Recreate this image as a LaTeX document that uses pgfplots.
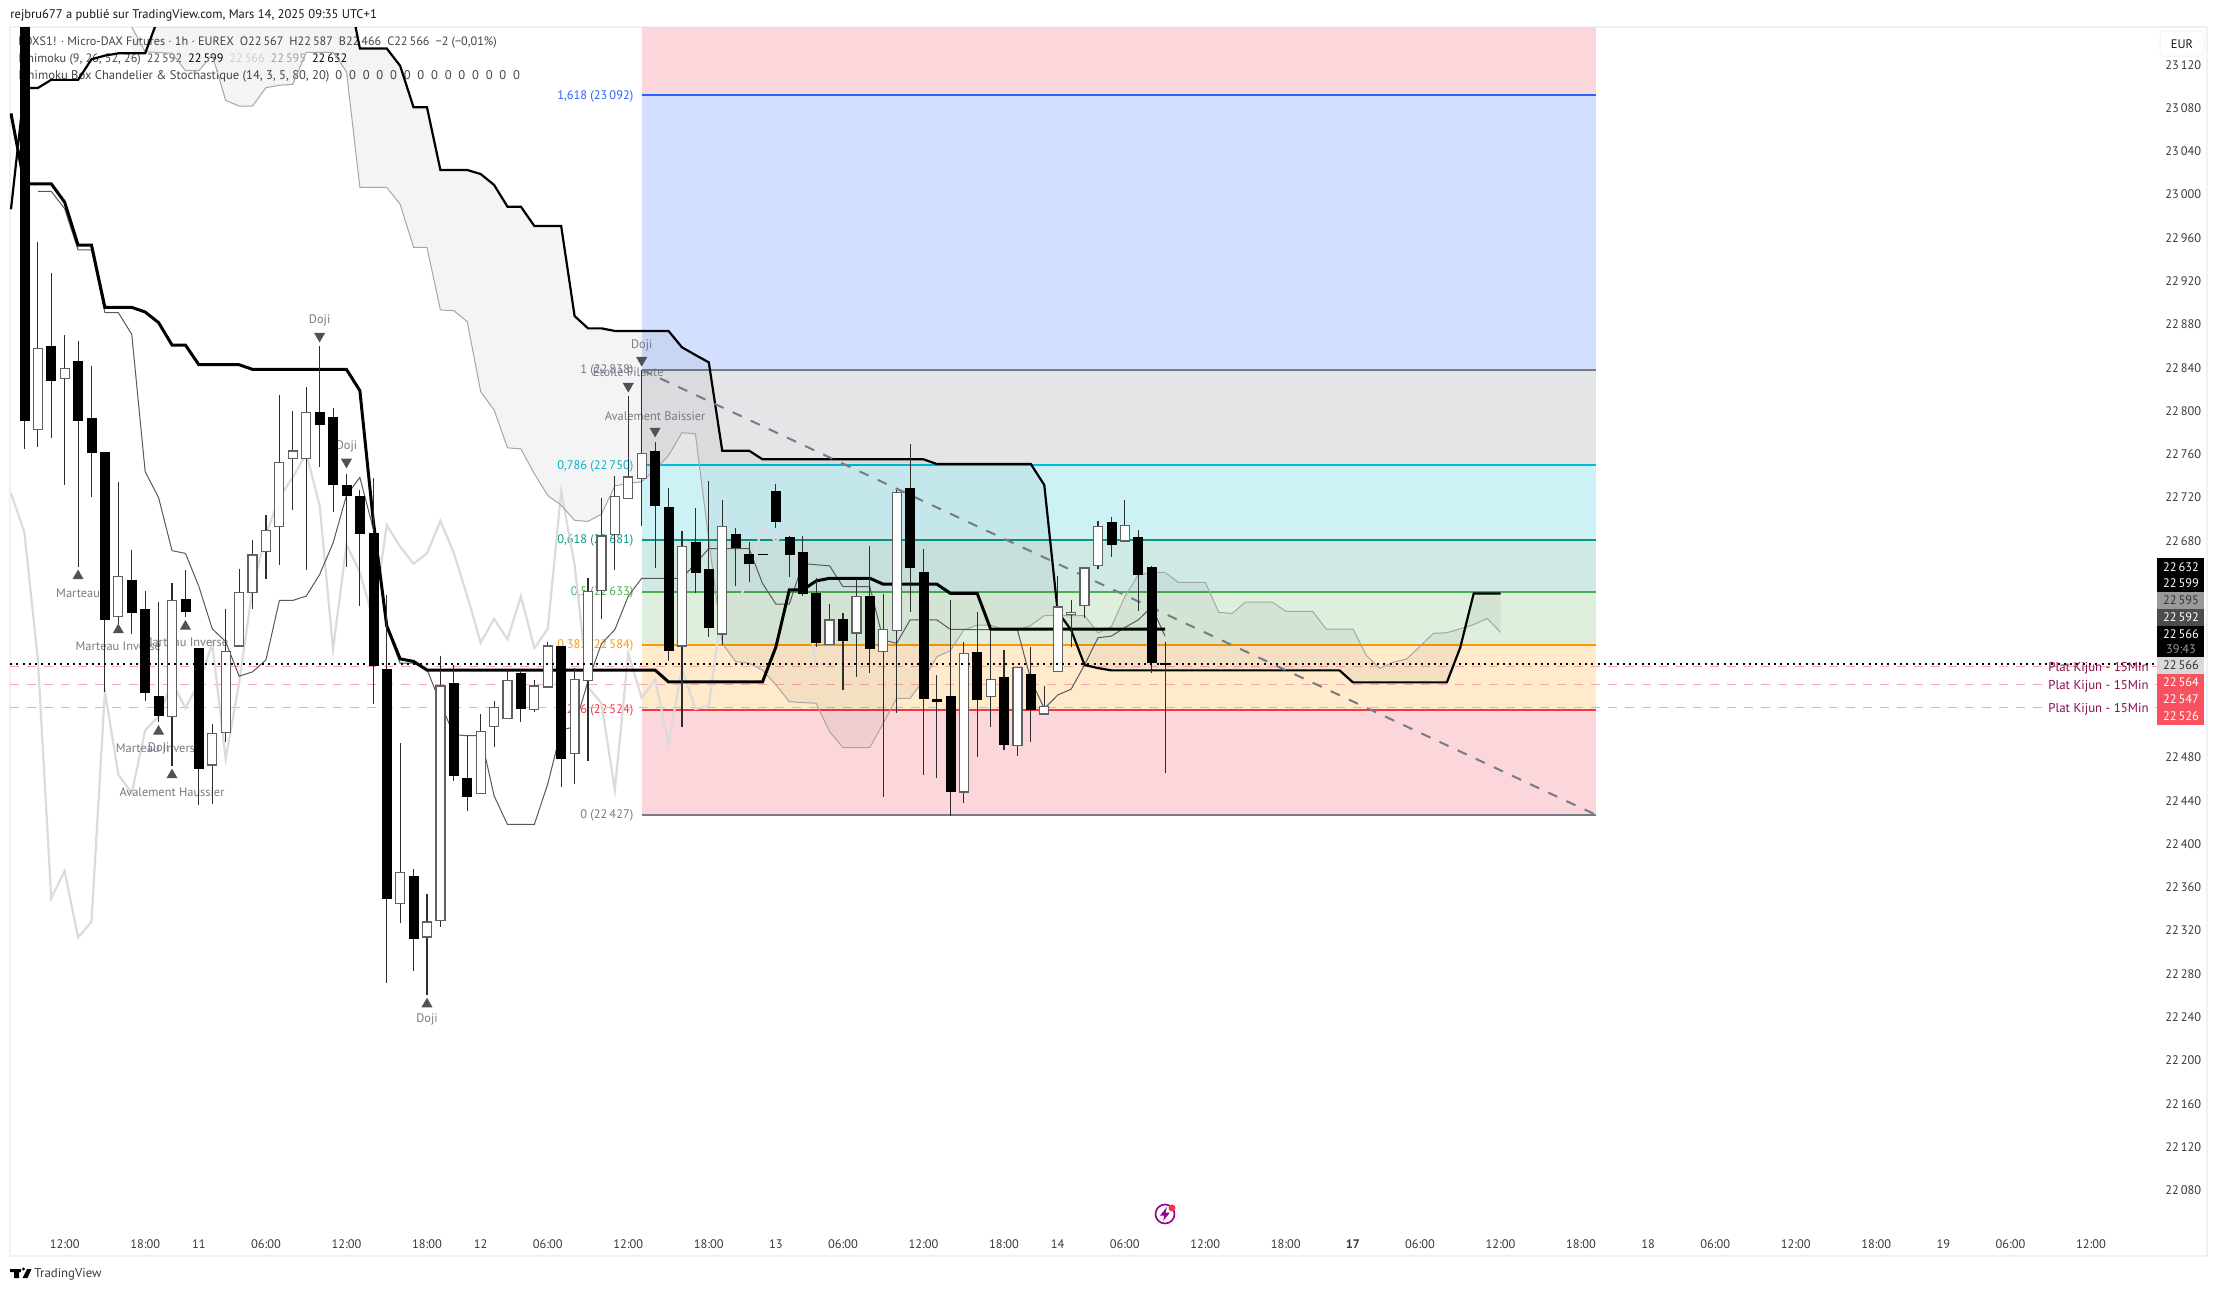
\documentclass[border=0pt]{standalone}
\usepackage{pgfplots}
\usepackage{pgfplotstable}
\usepackage{fontspec}
\setmainfont{PT Sans}
\usetikzlibrary{plotmarks}
\pgfplotsset{compat=1.18}
\definecolor{tvtext}{HTML}{131722}
\definecolor{tvgray}{HTML}{787B86}
\definecolor{fibblue}{HTML}{2962FF}
\definecolor{fibcyan}{HTML}{00BCD4}
\definecolor{fibteal}{HTML}{089981}
\definecolor{fibgreen}{HTML}{4CAF50}
\definecolor{fiborange}{HTML}{FF9800}
\definecolor{fibred}{HTML}{F23645}
\definecolor{zpink}{HTML}{FBD7DB}
\definecolor{zblue}{HTML}{D2DFFE}
\definecolor{zgrey}{HTML}{E4E5E7}
\definecolor{zcyan}{HTML}{CCF2F6}
\definecolor{zteal}{HTML}{CFEAE5}
\definecolor{zgreen}{HTML}{DEEFDE}
\definecolor{zorange}{HTML}{FFEACC}
\definecolor{plat}{HTML}{F7A9A9}
\definecolor{platt}{HTML}{880E4F}
\definecolor{tagred}{HTML}{F7525F}
\definecolor{pane}{HTML}{F0F1F4}

\pgfplotstableread{
x y
-1 23075
0 23010
2 23010
3 22993
4 22953.4
5 22953.4
6 22895.8
8 22895.8
9 22891.5
10 22881.7
11 22861
12 22861
13 22842.8
16 22842.8
17 22838.5
24 22838.5
25 22818.8
26 22698.5
27 22601.6
28 22571
29 22568.7
30 22560.7
47 22560.7
48 22549.7
55 22549.7
56 22582
57 22634.7
58 22634.7
59 22643
60 22645.5
63 22645.5
64 22640
68 22640
69 22631.6
71 22631.6
72 22598.6
85 22598.6
}\kijun

\pgfplotstableread{
x y
1 23003
2 23003
3 22987
4 22948.8
5 22948.8
6 22890.9
7 22890.9
8 22870.9
9 22744
10 22720
11 22671
12 22668.5
13 22638
14 22598.7
15 22587
16 22555
17 22559
18 22570
19 22625
20 22625
21 22629
22 22649
23 22678
24 22722
25 22738.7
26 22691
27 22600
28 22567
29 22567
30 22561.4
31 22530
32 22501
33 22500
34 22500
35 22444.5
36 22418
38 22418
39 22455.5
40 22505
41 22508.5
42 22550.5
43 22585
44 22598
45 22629
46 22645.5
49 22645.5
50 22659
51 22673
54 22673
55 22640.8
56 22621.7
57 22621.7
58 22659
59 22658
60 22657
61 22637.7
63 22637.7
64 22588.5
65 22585.4
66 22607
68 22607
69 22598.3
74 22597.7
75 22551.5
76 22525
77 22537.6
78 22543
79 22565.4
80 22590.6
81 22592
82 22600
83 22607
84 22619
85 22592
}\tenkan

\pgfplotstableread{
x y
-1 22986.4
0 23098.5
1 23098.5
2 23106
4 23106
5 23125
6 23128.4
7 23130.5
9 23130.5
10 23164
11 23197
24 23197
25 23135
27 23135
28 23119
29 23080.6
30 23080.6
31 23022.7
33 23022.7
34 23019
35 23008.9
36 22988.8
37 22988.8
38 22971
40 22971
41 22887.8
42 22876.4
43 22876.4
44 22874
48 22874
49 22858.9
50 22851.8
51 22845
52 22763.4
54 22763.4
55 22755.4
67 22755.4
68 22751
75 22751
76 22731.7
77 22614.6
78 22597.7
79 22565.4
80 22562.5
81 22560.4
98 22560.4
99 22549.3
106 22549.3
107 22581.6
108 22631.5
110 22631.5
}\senkouA

\pgfplotstableread{
x y
8 23155
9 23132
11 23130.5
12 23114.5
13 23114.5
14 23129
15 23087
16 23081.8
17 23081.8
18 23098.8
19 23101
20 23101.9
21 23131.4
23 23131.4
24 23113.6
25 23006.7
27 23006.7
28 22991
29 22951.3
30 22951.3
31 22893.4
32 22892.7
33 22882.6
34 22817.9
35 22801
36 22766
37 22765
38 22742
39 22722
40 22713
41 22699
42 22698
43 22704.7
44 22731
45 22733
46 22734.8
47 22745.5
48 22759
49 22780
50 22779
51 22681
52 22585.4
53 22568.5
54 22567
55 22560.7
56 22547
57 22531.5
58 22530.6
59 22530
60 22503.8
61 22489
63 22489
64 22511.5
65 22534.6
66 22534.6
67 22551.5
68 22573
69 22578.6
70 22597.7
71 22602.3
72 22602.3
73 22597.7
74 22597.7
75 22602
76 22611
79 22611
80 22595
81 22600.8
82 22628.5
83 22648.5
84 22650.9
85 22650.9
86 22641.7
88 22641.7
89 22614
90 22613
91 22623.5
93 22623.5
94 22614.9
96 22614.9
97 22598.6
99 22598.6
100 22574.2
101 22562.2
102 22568
103 22570.8
105 22594.6
106 22595.2
108 22602.6
109 22608.4
110 22595.5
}\senkouB

\pgfplotstableread{
x y
-1 22724
0 22688
1 22570.6
2 22350
3 22375
4 22313.7
5 22328
6 22541
7 22464
8 22447
9 22505
10 22518
11 22549.4
12 22525.6
13 22548.6
14 22585
15 22479
16 22548.6
17 22636
18 22685.7
19 22720
20 22738.7
21 22760.6
22 22713
23 22579.7
24 22676.5
25 22651
26 22607
27 22694.8
28 22674.7
29 22659
30 22668.5
31 22698.5
32 22669
33 22629
34 22586
35 22608
36 22589
37 22629
38 22581
39 22598.7
40 22726
41 22658
42 22545
43 22530
44 22450
45 22576
46 22535
47 22552
48 22493
49 22562
50 22524.7
51 22527.8
52 22619
53 22614.6
54 22650
55 22693
56 22679
57 22693
58 22634.7
59 22566
}\chikou

% candle: style, bar index, body top, body bottom, high, low
\newcommand{\cdl}[6]{%
  \pgfmathsetmacro\xa{#2-0.335}\pgfmathsetmacro\xb{#2+0.335}%
  \addplot[draw=black!82,line width=0.55pt] coordinates {(#2,#5)(#2,#6)};
  \addplot[#1] coordinates {(\xa,#3)(\xb,#3)(\xb,#4)(\xa,#4)} --cycle;
}
\tikzset{
  bk/.style={draw=black,fill=black,line width=0.3pt},
  wt/.style={draw=black!62,fill=white,line width=0.6pt},
  lbl/.style={text=tvgray,font=\fontsize{6.2}{7}\selectfont,inner sep=0pt},
  fl/.style={font=\fontsize{6.2}{7}\selectfont,inner sep=0pt,anchor=east,yshift=-0.5pt},
  tag/.style={font=\fontsize{6.2}{7}\selectfont,inner sep=0pt,anchor=center},
  pl/.style={font=\fontsize{6.45}{7}\selectfont,text=platt,anchor=east,xshift=-5.5pt,yshift=-0.7pt,inner sep=0pt},
}
\newcommand{\level}[2]{\addplot[#1,line width=0.8pt] coordinates {(46.02,#2)(117.1,#2)};}
\newcommand{\zone}[3]{\addplot[fill=#1,draw=none] coordinates {(46.02,#2)(117.1,#2)(117.1,#3)(46.02,#3)} --cycle;}
\begin{document}
\begin{tikzpicture}[x=0.5pt,y=-0.5pt]
\fill[white] (0,0) rectangle (2218,1291);
\draw[pane,line width=1.2pt] (10,27) rectangle (2207,1256);
\node[anchor=west,inner sep=0pt,text=tvtext,font=\fontsize{6.28}{7}\selectfont] at (10,15) {rejbru677 a publié sur TradingView.com, Mars 14, 2025 09:35 UTC+1};
\node[anchor=west,inner sep=0pt,text=tvtext!80,font=\fontsize{6.1}{7}\selectfont] at (18,42) {FDXS1! · Micro-DAX Futures · 1h · EUREX\hspace{3pt}O22\,567\hspace{3pt}H22\,587\hspace{3pt}B22\,466\hspace{3pt}C22\,566\hspace{3pt}−2 (−0,01\%)};
\node[anchor=west,inner sep=0pt,text=tvtext!80,font=\fontsize{6.1}{7}\selectfont] at (18,59) {Ichimoku (9, 26, 52, 26)\hspace{3pt}\textcolor{black!70}{22\,592}\hspace{3pt}\textcolor{black}{22\,599}\hspace{3pt}\textcolor{black!15}{22\,566}\hspace{3pt}\textcolor{black!35}{22\,595}\hspace{3pt}\textcolor{black}{22\,632}};
\node[anchor=west,inner sep=0pt,text=tvtext!80,font=\fontsize{6.3}{7}\selectfont] at (18,76) {Ichimoku Box Chandelier \& Stochastique (14, 3, 5, 80, 20)\hspace{3pt}0\hspace{3.4pt}0\hspace{3.4pt}0\hspace{3.4pt}0\hspace{3.4pt}0\hspace{3.4pt}0\hspace{3.4pt}0\hspace{3.4pt}0\hspace{3.4pt}0\hspace{3.4pt}0\hspace{3.4pt}0\hspace{3.4pt}0\hspace{3.4pt}0\hspace{3.4pt}0};

\begin{axis}[
  at={(5pt,-617.5pt)},anchor=south west,scale only axis,
  width=1075pt,height=604pt,
  xmin=-1.073,xmax=159.14,ymin=22038.7,ymax=23154.83,
  clip mode=individual,
  axis line style={draw=none},
  tick style={draw=none},
  major tick length=0pt,
  xtick={3,9,13,18,24,30,34,39,45,51,56,61,67,73,77,82,88,94,99,104,110,116,121,126,132,138,143,148,154},
  xticklabels={12:00,18:00,11,06:00,12:00,18:00,12,06:00,12:00,18:00,13,06:00,12:00,18:00,14,06:00,12:00,18:00,\textbf{17},06:00,12:00,18:00,18,06:00,12:00,18:00,19,06:00,12:00},
  ytick={22080,22120,...,23120},
  yticklabel pos=right,
  scaled y ticks=false,
  tick label style={font=\fontsize{6.2}{7}\selectfont,text=tvtext!85,inner sep=0pt},
  x tick label style={yshift=-1.9pt,anchor=north},
  y tick label style={xshift=2.5pt,anchor=west,/pgf/number format/fixed,/pgf/number format/precision=0,/pgf/number format/1000 sep={\,},/pgf/number format/assume math mode=true},
]
% Fibonacci zones
\addplot[fill=zpink,draw=none] coordinates {(46.02,23092)(117.1,23092)(117.1,23154.83)(46.02,23154.83)} --cycle;
\zone{zblue}{23092}{22838}
\zone{zgrey}{22838}{22750}
\zone{zcyan}{22750}{22681}
\zone{zteal}{22681}{22633}
\zone{zgreen}{22633}{22584}
\zone{zorange}{22584}{22524}
\zone{zpink}{22524}{22427}
\level{fibblue}{23092}
\level{tvgray}{22838}
\level{fibcyan}{22750}
\level{fibteal}{22681}
\level{fibgreen}{22633}
\level{fiborange}{22584}
\level{fibred}{22524}
\level{tvgray}{22427}
% Fibonacci labels
\node[fl,text=fibblue] at (axis cs:45.4,23092) {1,618 (23\,092)};
\node[fl,text=tvgray] at (axis cs:45.4,22838) {1 (22\,838)};
\node[fl,text=fibcyan] at (axis cs:45.4,22750) {0,786 (22\,750)};
\node[fl,text=fibteal] at (axis cs:45.4,22681) {0,618 (22\,681)};
\node[fl,text=fibgreen] at (axis cs:45.4,22633) {0,5 (22\,633)};
\node[fl,text=fiborange] at (axis cs:45.4,22584) {0,382 (22\,584)};
\node[fl,text=fibred] at (axis cs:45.4,22524) {0,236 (22\,524)};
\node[fl,text=tvgray] at (axis cs:45.4,22427) {0 (22\,427)};
% Kijun plat lines
\addplot[plat,line width=0.45pt,dash pattern=on 4.5pt off 4pt] coordinates {(-1.073,22564)(159.14,22564)};
\addplot[plat,line width=0.45pt,dash pattern=on 4.5pt off 4pt] coordinates {(-1.073,22547)(159.14,22547)};
\addplot[plat,line width=0.45pt,dash pattern=on 4.5pt off 4pt] coordinates {(-1.073,22526)(159.14,22526)};
% Ichimoku cloud: Senkou A forward, Senkou B back
\addplot[fill=black,fill opacity=0.045,draw=none] coordinates {
(8,23130.5)(9,23130.5)(10,23164)(11,23197)(24,23197)(25,23135)(27,23135)(28,23119)(29,23080.6)(30,23080.6)(31,23022.7)(33,23022.7)(34,23019)(35,23008.9)(36,22988.8)(37,22988.8)(38,22971)(40,22971)(41,22887.8)(42,22876.4)(43,22876.4)(44,22874)(48,22874)(49,22858.9)(50,22851.8)(51,22845)(52,22763.4)(54,22763.4)(55,22755.4)(67,22755.4)(68,22751)(75,22751)(76,22731.7)(77,22614.6)(78,22597.7)(79,22565.4)(80,22562.5)(81,22560.4)(98,22560.4)(99,22549.3)(106,22549.3)(107,22581.6)(108,22631.5)(110,22631.5)
(110,22595.5)(109,22608.4)(108,22602.6)(106,22595.2)(105,22594.6)(103,22570.8)(102,22568)(101,22562.2)(100,22574.2)(99,22598.6)(97,22598.6)(96,22614.9)(94,22614.9)(93,22623.5)(91,22623.5)(90,22613)(89,22614)(88,22641.7)(86,22641.7)(85,22650.9)(84,22650.9)(83,22648.5)(82,22628.5)(81,22600.8)(80,22595)(79,22611)(76,22611)(75,22602)(74,22597.7)(73,22597.7)(72,22602.3)(71,22602.3)(70,22597.7)(69,22578.6)(68,22573)(67,22551.5)(66,22534.6)(65,22534.6)(64,22511.5)(63,22489)(61,22489)(60,22503.8)(59,22530)(58,22530.6)(57,22531.5)(56,22547)(55,22560.7)(54,22567)(53,22568.5)(52,22585.4)(51,22681)(50,22779)(49,22780)(48,22759)(47,22745.5)(46,22734.8)(45,22733)(44,22731)(43,22704.7)(42,22698)(41,22699)(40,22713)(39,22722)(38,22742)(37,22765)(36,22766)(35,22801)(34,22817.9)(33,22882.6)(32,22892.7)(31,22893.4)(30,22951.3)(29,22951.3)(28,22991)(27,23006.7)(25,23006.7)(24,23113.6)(23,23131.4)(21,23131.4)(20,23101.9)(19,23101)(18,23098.8)(17,23081.8)(16,23081.8)(15,23087)(14,23129)(13,23114.5)(12,23114.5)(11,23130.5)(9,23132)(8,23155)
} --cycle;
\addplot[black!14,line width=1.1pt] table {\chikou};
\addplot[black!35,line width=0.5pt] table {\senkouB};
\addplot[black!65,line width=0.5pt] table {\tenkan};
\addplot[black,line width=1.1pt] table {\senkouA};
\addplot[black,line width=1.5pt] table {\kijun};
% Fibonacci trend line
\addplot[tvgray,line width=1pt,dash pattern=on 5pt off 5pt] coordinates {(46.02,22838)(117.1,22427)};
% Candle patterns
\addplot[only marks,mark=triangle*,mark size=2.8pt,color=black!68,mark options={rotate=180}] coordinates {(22,22869.3)(46,22847)(45,22823)(47,22781.6)(24,22753)};
\addplot[only marks,mark=triangle*,mark size=2.8pt,color=black!68] coordinates {(4,22647.6)(7,22597.7)(12,22601)(10,22504)(11,22463.7)(30,22252)};
\node[lbl] at (axis cs:22,22883.5) {Doji};
\node[lbl] at (axis cs:46,22861) {Doji};
\node[lbl] at (axis cs:45,22837) {Étoile Filante};
\node[lbl] at (axis cs:47,22795) {Avalement Baissier};
\node[lbl] at (axis cs:24,22767) {Doji};
\node[lbl] at (axis cs:4,22632) {Marteau};
\node[lbl] at (axis cs:7,22583) {Marteau Inverse};
\node[lbl] at (axis cs:12,22586) {Marteau Inverse};
\node[lbl] at (axis cs:10,22488.6) {Marteau Inverse};
\node[lbl] at (axis cs:10,22488.6) {Doji};
\node[lbl] at (axis cs:11,22448) {Avalement Haussier};
\node[lbl] at (axis cs:30,22238) {Doji};
% Candles: index, body top, body bottom, high, low
\cdl{bk}{0}{23200}{22791}{23200}{22765}
\cdl{wt}{1}{22858}{22783}{22956}{22767}
\cdl{bk}{2}{22860}{22828}{22928}{22775}
\cdl{wt}{3}{22839}{22830}{22870}{22732}
\cdl{bk}{4}{22846}{22791}{22865}{22656}
\cdl{bk}{5}{22793.6}{22762}{22842}{22721}
\cdl{bk}{6}{22762}{22608}{22762}{22540}
\cdl{wt}{7}{22647}{22610}{22734}{22603}
\cdl{bk}{8}{22644}{22614}{22672}{22594}
\cdl{bk}{9}{22617}{22540}{22634}{22532}
\cdl{bk}{10}{22536.6}{22519}{22624}{22513}
\cdl{wt}{11}{22625}{22518}{22641}{22472}
\cdl{bk}{12}{22626}{22615}{22653}{22610}
\cdl{bk}{13}{22581}{22470}{22581}{22436}
\cdl{wt}{14}{22502}{22473}{22511}{22437}
\cdl{wt}{15}{22578}{22503}{22617}{22494}
\cdl{wt}{16}{22632}{22583}{22654}{22583}
\cdl{wt}{17}{22667}{22632}{22681}{22617}
\cdl{wt}{18}{22690}{22670}{22704}{22645}
\cdl{wt}{19}{22752.5}{22693}{22815}{22658}
\cdl{wt}{20}{22763}{22756}{22800}{22709}
\cdl{wt}{21}{22799}{22756}{22822}{22653}
\cdl{bk}{22}{22798.8}{22788}{22860}{22748}
\cdl{bk}{23}{22794}{22732}{22803}{22707}
\cdl{bk}{24}{22731}{22722}{22742}{22656}
\cdl{bk}{25}{22721}{22687}{22727}{22620}
\cdl{bk}{26}{22687.5}{22565}{22738}{22529}
\cdl{bk}{27}{22561}{22349.5}{22630}{22272}
\cdl{wt}{28}{22373.6}{22345}{22493}{22327}
\cdl{bk}{29}{22370}{22312.6}{22377}{22283}
\cdl{wt}{30}{22328}{22314}{22354}{22260.6}
\cdl{wt}{31}{22546}{22329}{22574}{22323.6}
\cdl{bk}{32}{22548.6}{22463}{22565}{22458}
\cdl{bk}{33}{22460.6}{22444}{22500}{22430.6}
\cdl{wt}{34}{22504}{22447}{22520}{22447}
\cdl{wt}{35}{22526}{22508.5}{22532}{22490}
\cdl{wt}{36}{22551}{22516}{22561}{22516}
\cdl{bk}{37}{22558}{22525}{22561}{22513}
\cdl{wt}{38}{22546}{22524}{22551.6}{22522}
\cdl{wt}{39}{22583}{22545}{22587}{22545}
\cdl{bk}{40}{22583}{22479}{22583}{22453}
\cdl{wt}{41}{22552}{22483.6}{22563}{22455}
\cdl{wt}{42}{22633.4}{22551}{22645.5}{22477}
\cdl{wt}{43}{22684.6}{22634}{22720}{22608}
\cdl{wt}{44}{22721}{22686}{22740}{22653.5}
\cdl{wt}{45}{22739}{22719}{22814}{22719}
\cdl{wt}{46}{22761}{22738}{22838}{22694}
\cdl{bk}{47}{22763}{22713}{22771}{22655}
\cdl{bk}{48}{22711}{22579}{22729}{22569}
\cdl{wt}{49}{22675}{22583}{22689}{22508}
\cdl{bk}{50}{22679}{22651}{22710}{22632}
\cdl{bk}{51}{22654}{22600}{22735}{22591}
\cdl{wt}{52}{22693}{22594}{22718}{22584}
\cdl{bk}{53}{22686}{22674}{22692}{22638}
\cdl{bk}{54}{22668}{22659}{22679}{22642}
\cdl{bk}{55}{22668}{22667.5}{22668}{22667}
\cdl{bk}{56}{22726}{22698}{22733}{22692}
\cdl{bk}{57}{22683}{22668}{22685}{22647}
\cdl{bk}{58}{22669.5}{22632}{22685}{22629}
\cdl{bk}{59}{22631.6}{22586}{22646}{22582}
\cdl{wt}{60}{22607}{22584}{22622}{22584}
\cdl{bk}{61}{22608}{22588}{22613}{22542}
\cdl{wt}{62}{22628.5}{22595}{22645}{22554}
\cdl{bk}{63}{22629}{22581}{22675}{22558}
\cdl{wt}{64}{22598}{22578}{22631}{22443}
\cdl{wt}{65}{22725}{22597}{22727}{22521}
\cdl{bk}{66}{22729}{22656}{22770}{22614}
\cdl{bk}{67}{22651}{22535}{22673}{22464}
\cdl{bk}{68}{22533.6}{22532}{22556}{22461}
\cdl{bk}{69}{22536.4}{22449}{22625}{22426}
\cdl{wt}{70}{22576}{22448}{22587}{22438}
\cdl{bk}{71}{22577}{22534}{22614}{22480}
\cdl{wt}{72}{22552}{22536}{22598}{22508}
\cdl{bk}{73}{22554}{22492}{22579}{22487}
\cdl{wt}{74}{22563}{22491}{22563}{22481}
\cdl{bk}{75}{22557}{22524}{22582}{22494}
\cdl{wt}{76}{22527}{22520}{22546}{22520}
\cdl{wt}{77}{22619}{22559.5}{22648}{22559.5}
\cdl{wt}{78}{22613.7}{22612}{22625}{22582}
\cdl{wt}{79}{22655}{22620.5}{22655}{22609}
\cdl{wt}{80}{22693}{22657.5}{22698}{22654}
\cdl{bk}{81}{22697}{22677}{22702}{22665}
\cdl{wt}{82}{22694}{22680}{22718}{22680}
\cdl{bk}{83}{22683}{22649}{22690}{22615}
\cdl{bk}{84}{22655.6}{22568}{22657}{22558}
\cdl{bk}{85}{22567}{22566}{22587}{22466}
% Last price line
\addplot[black,line width=1pt,dash pattern=on 1pt off 2.15pt] coordinates {(-1.073,22566)(159.14,22566)};
\node[pl] at (axis cs:159.14,22564) {Plat Kijun - 15Min};
\node[pl,fill=white,inner xsep=3pt,inner ysep=1pt,xshift=3pt] at (axis cs:159.14,22547) {Plat Kijun - 15Min};
\node[pl,fill=white,inner xsep=3pt,inner ysep=1pt,xshift=3pt] at (axis cs:159.14,22526) {Plat Kijun - 15Min};
\end{axis}

% Price scale tags
\fill[black] (2157,558) rectangle (2204,592);
\fill[black!40] (2157,592) rectangle (2204,609);
\fill[black!70] (2157,609) rectangle (2204,626);
\fill[black] (2157,626) rectangle (2204,657);
\fill[black!15] (2157,657) rectangle (2204,674);
\fill[tagred] (2157,674) rectangle (2204,725);
\node[tag,text=white] at (2181,567) {22\,632};
\node[tag,text=white] at (2181,583) {22\,599};
\node[tag,text=black!80] at (2181,600.5) {22\,595};
\node[tag,text=white] at (2181,617.5) {22\,592};
\node[tag,text=white] at (2181,634.5) {22\,566};
\node[tag,text=black!40] at (2181,649) {39:43};
\node[tag,text=black!80] at (2181,665.5) {22\,566};
\node[tag,text=white] at (2181,682.5) {22\,564};
\node[tag,text=white] at (2181,699.5) {22\,547};
\node[tag,text=white] at (2181,716.5) {22\,526};
% Currency button
\draw[pane,fill=white,rounded corners=2pt,line width=0.5pt] (2160,31) rectangle (2204,56);
\node[tag,text=tvtext] at (2182,44) {EUR};
% Lightning icon
\draw[color=violet!85!magenta,line width=0.8pt] (1165,1214) circle (9.5);
\fill[color=violet!85!magenta] (1167,1207) -- (1160,1215.5) -- (1164.5,1215.5) -- (1163,1221) -- (1170,1212.5) -- (1165.5,1212.5) -- cycle;
\fill[fibred] (1172,1208) circle (3.5);
% Brand
\fill[black] (10,1269) rectangle (21,1272) (14,1272) rectangle (19,1278);
\fill[black] (23.5,1269) circle (1.6);
\fill[black] (27,1269) -- (31.5,1269) -- (27.5,1278) -- (22.5,1278) -- cycle;
\node[anchor=west,inner sep=0pt,text=tvtext!85,font=\fontsize{6.4}{7}\selectfont] at (34,1274) {TradingView};
\end{tikzpicture}
\end{document}
